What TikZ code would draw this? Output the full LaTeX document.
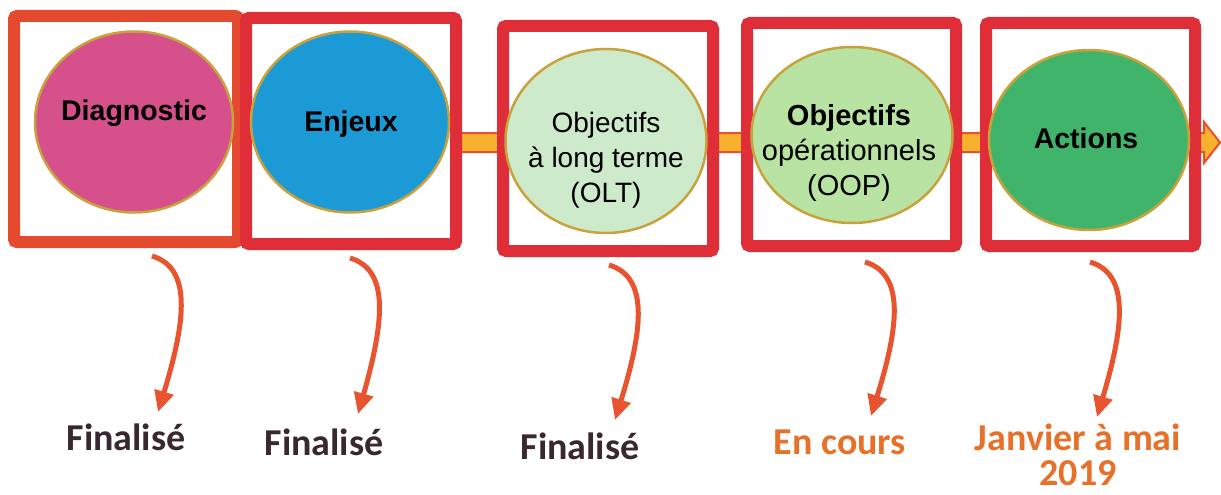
\documentclass[tikz,border=0pt]{standalone}
\usepackage{fontspec}
\setmainfont{Liberation Sans}
\newfontfamily\labfont{Carlito}
\usetikzlibrary{shapes.geometric,arrows.meta}
\definecolor{frameA}{HTML}{E44A30}
\definecolor{frameB}{HTML}{DF2E38}
\definecolor{goldline}{HTML}{C9A23E}
\definecolor{cDiag}{HTML}{D6508B}
\definecolor{cEnj}{HTML}{1C9AD6}
\definecolor{cOLT}{HTML}{CDEBCB}
\definecolor{cOOP}{HTML}{B9E3A3}
\definecolor{cAct}{HTML}{40B46B}
\definecolor{bandfill}{HTML}{F6B12E}
\definecolor{bandline}{HTML}{E8502F}
\definecolor{arrowred}{HTML}{E8542F}
\definecolor{darklab}{HTML}{3A2830}
\definecolor{orangelab}{HTML}{E8712A}
\tikzset{
  frame/.style={draw=frameB, line width=12pt, fill=white, rounded corners=3pt, inner sep=0pt},
  bubble/.style={ellipse, draw=goldline, line width=2.5pt, inner sep=0pt},
  btext/.style={align=center, text=black, inner sep=0pt, font=\fontsize{28}{35}\selectfont},
  status/.style={align=center, inner sep=0pt, font=\labfont\bfseries\fontsize{38}{35}\selectfont},
  flow/.style={draw=arrowred, line width=5pt, -{Triangle[length=21pt,width=19pt]}}
}
\begin{document}
\begin{tikzpicture}[x=1pt,y=-1pt]
\useasboundingbox (0,0) rectangle (1221,495);
% band arrow
\draw[bandline, line width=2pt, fill=bandfill, line join=miter]
  (455,133) -- (1204,133) -- (1204,122) -- (1220,142.5) -- (1204,163) -- (1204,152) -- (455,152) -- cycle;
% frames
\node[frame, draw=frameA, minimum width=224pt, minimum height=226pt] (box1) at (126,129) {};
\node[frame, minimum width=210pt, minimum height=226pt] (box2) at (351,131) {};
\node[frame, minimum width=210pt, minimum height=225pt] (box3) at (608,138.5) {};
\node[frame, minimum width=209pt, minimum height=223pt] (box4) at (851.5,134.5) {};
\node[frame, minimum width=209pt, minimum height=223pt] (box5) at (1090.5,134.5) {};
% bubbles
\node[bubble, fill=cDiag, minimum width=198pt, minimum height=181pt] (e1) at (134,122) {};
\node[bubble, fill=cEnj, minimum width=198pt, minimum height=181pt] (e2) at (350,122) {};
\node[bubble, fill=cOLT, minimum width=201pt, minimum height=184pt] (e3) at (606,141) {};
\node[bubble, fill=cOOP, minimum width=201pt, minimum height=176pt] (e4) at (852,135) {};
\node[bubble, fill=cAct, minimum width=200pt, minimum height=180pt] (e5) at (1089,140) {};
% bubble texts
\node[btext, font=\bfseries\fontsize{28.5}{35}\selectfont] (t1) at (134,113) {Diagnostic};
\node[btext, font=\bfseries\fontsize{28.5}{35}\selectfont] (t2) at (351,124) {Enjeux};
\node[btext] (t3) at (606,160) {Objectifs\\à long terme\\(OLT)};
\node[btext, font=\fontsize{29}{35}\selectfont] (t4) at (849,153) {\textbf{Objectifs}\\opérationnels\\(OOP)};
\node[btext, font=\bfseries\fontsize{28.5}{35}\selectfont] (t5) at (1086,138) {Actions};
% status labels
\node[status, text=darklab] (s1) at (126,437) {Finalisé};
\node[status, text=darklab] (s2) at (324,442) {Finalisé};
\node[status, text=darklab] (s3) at (580,446) {Finalisé};
\node[status, text=orangelab] (s4) at (840,442) {En cours};
\node[status, text=orangelab] (s5) at (1078,455) {Janvier à mai\\2019};
% arrow ends
\coordinate (a1s) at (152,256); \coordinate (a1e) at (158,412);
\coordinate (a2s) at (350,258); \coordinate (a2e) at (358,414);
\coordinate (a3s) at (609,265); \coordinate (a3e) at (615,420);
\coordinate (a4s) at (865,262); \coordinate (a4e) at (871,416);
\coordinate (a5s) at (1090,262); \coordinate (a5e) at (1097,417);
\draw[flow] (a1s) .. controls (192,268) and (186,320) .. (a1e);
\draw[flow] (a2s) .. controls (390,270) and (384,322) .. (a2e);
\draw[flow] (a3s) .. controls (649,277) and (643,329) .. (a3e);
\draw[flow] (a4s) .. controls (905,274) and (899,326) .. (a4e);
\draw[flow] (a5s) .. controls (1130,274) and (1124,326) .. (a5e);
\end{tikzpicture}
\end{document}
